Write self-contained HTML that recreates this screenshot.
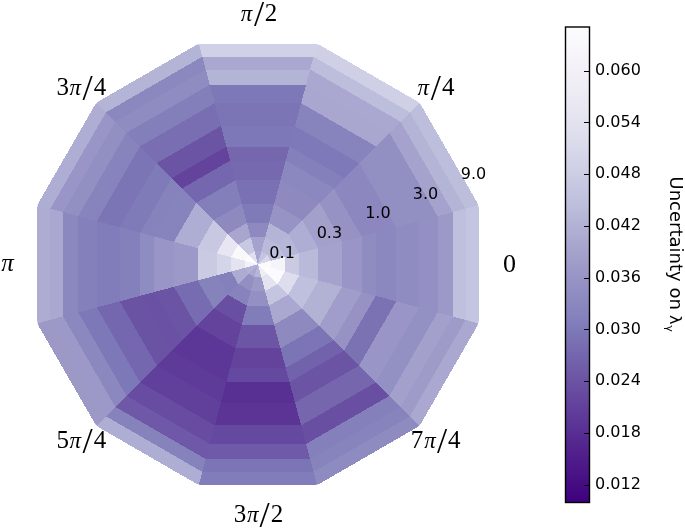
<!DOCTYPE html>
<html><head><meta charset="utf-8"><title>Uncertainty polar plot</title>
<style>
html,body{margin:0;padding:0;background:#fff;}
body{width:685px;height:529px;overflow:hidden;}
svg{display:block;}
.dv{font-family:"DejaVu Sans","Liberation Sans",sans-serif;font-size:16px;fill:#000;}
.tx{font-family:"Liberation Serif","DejaVu Serif",serif;font-size:25px;fill:#000;}
.pi{font-style:italic;font-size:23px;}
.sl{font-size:36.5px;}

</style></head><body>
<svg width="685" height="529" viewBox="0 0 685 529">
<defs><linearGradient id="cb" x1="0" y1="0" x2="0" y2="1">
<stop offset="0.0000" stop-color="#fcfbfd"/>
<stop offset="0.0312" stop-color="#f9f8fb"/>
<stop offset="0.0625" stop-color="#f6f4f9"/>
<stop offset="0.0938" stop-color="#f3f1f7"/>
<stop offset="0.1250" stop-color="#efedf5"/>
<stop offset="0.1562" stop-color="#eae9f3"/>
<stop offset="0.1875" stop-color="#e5e4f0"/>
<stop offset="0.2188" stop-color="#e0dfee"/>
<stop offset="0.2500" stop-color="#dadaeb"/>
<stop offset="0.2812" stop-color="#d3d3e8"/>
<stop offset="0.3125" stop-color="#cccce4"/>
<stop offset="0.3438" stop-color="#c4c5e0"/>
<stop offset="0.3750" stop-color="#bdbedc"/>
<stop offset="0.4062" stop-color="#b5b5d7"/>
<stop offset="0.4375" stop-color="#aeacd2"/>
<stop offset="0.4688" stop-color="#a6a3cd"/>
<stop offset="0.5000" stop-color="#9e9bc8"/>
<stop offset="0.5312" stop-color="#9793c5"/>
<stop offset="0.5625" stop-color="#8f8cc1"/>
<stop offset="0.5938" stop-color="#8885be"/>
<stop offset="0.6250" stop-color="#807dba"/>
<stop offset="0.6562" stop-color="#7b72b4"/>
<stop offset="0.6875" stop-color="#7567af"/>
<stop offset="0.7188" stop-color="#705ca9"/>
<stop offset="0.7500" stop-color="#6a51a3"/>
<stop offset="0.7812" stop-color="#65479e"/>
<stop offset="0.8125" stop-color="#5f3c99"/>
<stop offset="0.8438" stop-color="#5a3294"/>
<stop offset="0.8750" stop-color="#54278f"/>
<stop offset="0.9062" stop-color="#4f1d8b"/>
<stop offset="0.9375" stop-color="#4a1486"/>
<stop offset="0.9688" stop-color="#440a82"/>
<stop offset="1.0000" stop-color="#3f007d"/>
</linearGradient>
<clipPath id="circ"><circle cx="257.95" cy="264.3" r="228.0"/></clipPath></defs>
<rect width="685" height="529" fill="#fff"/>
<g shape-rendering="crispEdges" clip-path="url(#circ)">
<polygon points="257.95,264.30 270.80,267.74 270.80,260.86" fill="#faf9fc"/>
<polygon points="270.80,267.74 284.80,271.49 284.80,257.11 270.80,260.86" fill="#f5f4f9"/>
<polygon points="284.80,271.49 299.30,275.38 299.30,253.22 284.80,257.11" fill="#cacae3"/>
<polygon points="299.30,275.38 318.35,280.48 318.35,248.12 299.30,253.22" fill="#b9b9da"/>
<polygon points="318.35,280.48 341.95,286.81 341.95,241.79 318.35,248.12" fill="#a5a2cd"/>
<polygon points="341.95,286.81 361.60,292.07 361.60,236.53 341.95,241.79" fill="#9995c6"/>
<polygon points="361.60,292.07 375.70,295.85 375.70,232.75 361.60,236.53" fill="#8f8cc1"/>
<polygon points="375.70,295.85 396.20,301.34 396.20,227.26 375.70,232.75" fill="#8b87bf"/>
<polygon points="396.20,301.34 419.10,307.48 419.10,221.12 396.20,227.26" fill="#8f8cc1"/>
<polygon points="419.10,307.48 437.60,312.44 437.60,216.16 419.10,221.12" fill="#9490c3"/>
<polygon points="437.60,312.44 452.75,316.50 452.75,212.10 437.60,216.16" fill="#9c98c7"/>
<polygon points="452.75,316.50 465.55,319.93 465.55,208.67 452.75,212.10" fill="#bfc0de"/>
<polygon points="465.55,319.93 478.75,323.46 478.75,205.14 465.55,208.67" fill="#c4c5e0"/>
<polygon points="257.95,264.30 270.80,260.86 267.36,254.89" fill="#d8d8ea"/>
<polygon points="270.80,260.86 284.80,257.11 277.61,244.64 267.36,254.89" fill="#bebedd"/>
<polygon points="284.80,257.11 299.30,253.22 288.22,234.03 277.61,244.64" fill="#b6b6d8"/>
<polygon points="299.30,253.22 318.35,248.12 302.17,220.08 288.22,234.03" fill="#aeadd3"/>
<polygon points="318.35,248.12 341.95,241.79 319.44,202.81 302.17,220.08" fill="#a3a0cb"/>
<polygon points="341.95,241.79 361.60,236.53 333.83,188.42 319.44,202.81" fill="#9692c4"/>
<polygon points="361.60,236.53 375.70,232.75 344.15,178.10 333.83,188.42" fill="#8c88bf"/>
<polygon points="375.70,232.75 396.20,227.26 359.16,163.09 344.15,178.10" fill="#8c88bf"/>
<polygon points="396.20,227.26 419.10,221.12 375.92,146.33 359.16,163.09" fill="#928fc3"/>
<polygon points="419.10,221.12 437.60,216.16 389.46,132.79 375.92,146.33" fill="#928fc3"/>
<polygon points="437.60,216.16 452.75,212.10 400.55,121.70 389.46,132.79" fill="#a5a2cd"/>
<polygon points="452.75,212.10 465.55,208.67 409.92,112.33 400.55,121.70" fill="#b4b4d7"/>
<polygon points="465.55,208.67 478.75,205.14 419.59,102.66 409.92,112.33" fill="#bdbedc"/>
<polygon points="257.95,264.30 267.36,254.89 261.39,251.45" fill="#c4c5e0"/>
<polygon points="267.36,254.89 277.61,244.64 265.14,237.45 261.39,251.45" fill="#babadb"/>
<polygon points="277.61,244.64 288.22,234.03 269.03,222.95 265.14,237.45" fill="#b4b4d7"/>
<polygon points="288.22,234.03 302.17,220.08 274.13,203.90 269.03,222.95" fill="#9793c5"/>
<polygon points="302.17,220.08 319.44,202.81 280.46,180.30 274.13,203.90" fill="#8e8ac0"/>
<polygon points="319.44,202.81 333.83,188.42 285.72,160.65 280.46,180.30" fill="#8b87bf"/>
<polygon points="333.83,188.42 344.15,178.10 289.50,146.55 285.72,160.65" fill="#8380bb"/>
<polygon points="344.15,178.10 359.16,163.09 294.99,126.05 289.50,146.55" fill="#7e79b8"/>
<polygon points="359.16,163.09 375.92,146.33 301.13,103.15 294.99,126.05" fill="#8683bd"/>
<polygon points="375.92,146.33 389.46,132.79 306.09,84.65 301.13,103.15" fill="#a9a7cf"/>
<polygon points="389.46,132.79 400.55,121.70 310.15,69.50 306.09,84.65" fill="#aaa8d0"/>
<polygon points="400.55,121.70 409.92,112.33 313.58,56.70 310.15,69.50" fill="#bdbedc"/>
<polygon points="409.92,112.33 419.59,102.66 317.11,43.50 313.58,56.70" fill="#cfd0e6"/>
<polygon points="257.95,264.30 261.39,251.45 254.51,251.45" fill="#aaa8d0"/>
<polygon points="261.39,251.45 265.14,237.45 250.76,237.45 254.51,251.45" fill="#a5a2cd"/>
<polygon points="265.14,237.45 269.03,222.95 246.87,222.95 250.76,237.45" fill="#8e8ac0"/>
<polygon points="269.03,222.95 274.13,203.90 241.77,203.90 246.87,222.95" fill="#7f7bb9"/>
<polygon points="274.13,203.90 280.46,180.30 235.44,180.30 241.77,203.90" fill="#7a71b4"/>
<polygon points="280.46,180.30 285.72,160.65 230.18,160.65 235.44,180.30" fill="#7669af"/>
<polygon points="285.72,160.65 289.50,146.55 226.40,146.55 230.18,160.65" fill="#7566ae"/>
<polygon points="289.50,146.55 294.99,126.05 220.91,126.05 226.40,146.55" fill="#7d78b7"/>
<polygon points="294.99,126.05 301.13,103.15 214.77,103.15 220.91,126.05" fill="#7b74b5"/>
<polygon points="301.13,103.15 306.09,84.65 209.81,84.65 214.77,103.15" fill="#7d78b7"/>
<polygon points="306.09,84.65 310.15,69.50 205.75,69.50 209.81,84.65" fill="#b4b4d7"/>
<polygon points="310.15,69.50 313.58,56.70 202.32,56.70 205.75,69.50" fill="#aaa8d0"/>
<polygon points="313.58,56.70 317.11,43.50 198.79,43.50 202.32,56.70" fill="#d0d1e6"/>
<polygon points="257.95,264.30 254.51,251.45 248.54,254.89" fill="#e1e0ee"/>
<polygon points="254.51,251.45 250.76,237.45 238.29,244.64 248.54,254.89" fill="#c7c8e1"/>
<polygon points="250.76,237.45 246.87,222.95 227.68,234.03 238.29,244.64" fill="#a8a6cf"/>
<polygon points="246.87,222.95 241.77,203.90 213.73,220.08 227.68,234.03" fill="#8e8ac0"/>
<polygon points="241.77,203.90 235.44,180.30 196.46,202.81 213.73,220.08" fill="#827fbb"/>
<polygon points="235.44,180.30 230.18,160.65 182.07,188.42 196.46,202.81" fill="#7567af"/>
<polygon points="230.18,160.65 226.40,146.55 171.75,178.10 182.07,188.42" fill="#63439c"/>
<polygon points="226.40,146.55 220.91,126.05 156.74,163.09 171.75,178.10" fill="#6c54a5"/>
<polygon points="220.91,126.05 214.77,103.15 139.98,146.33 156.74,163.09" fill="#796eb2"/>
<polygon points="214.77,103.15 209.81,84.65 126.44,132.79 139.98,146.33" fill="#827fbb"/>
<polygon points="209.81,84.65 205.75,69.50 115.35,121.70 126.44,132.79" fill="#8f8cc1"/>
<polygon points="205.75,69.50 202.32,56.70 105.98,112.33 115.35,121.70" fill="#8b87bf"/>
<polygon points="202.32,56.70 198.79,43.50 96.31,102.66 105.98,112.33" fill="#b4b4d7"/>
<polygon points="257.95,264.30 248.54,254.89 245.10,260.86" fill="#fcfbfd"/>
<polygon points="248.54,254.89 238.29,244.64 231.10,257.11 245.10,260.86" fill="#f9f8fb"/>
<polygon points="238.29,244.64 227.68,234.03 216.60,253.22 231.10,257.11" fill="#e8e6f2"/>
<polygon points="227.68,234.03 213.73,220.08 197.55,248.12 216.60,253.22" fill="#c8c8e2"/>
<polygon points="213.73,220.08 196.46,202.81 173.95,241.79 197.55,248.12" fill="#aeadd3"/>
<polygon points="196.46,202.81 182.07,188.42 154.30,236.53 173.95,241.79" fill="#8784bd"/>
<polygon points="182.07,188.42 171.75,178.10 140.20,232.75 154.30,236.53" fill="#8582bc"/>
<polygon points="171.75,178.10 156.74,163.09 119.70,227.26 140.20,232.75" fill="#7f7bb9"/>
<polygon points="156.74,163.09 139.98,146.33 96.80,221.12 119.70,227.26" fill="#7b74b5"/>
<polygon points="139.98,146.33 126.44,132.79 78.30,216.16 96.80,221.12" fill="#8784bd"/>
<polygon points="126.44,132.79 115.35,121.70 63.15,212.10 78.30,216.16" fill="#928fc3"/>
<polygon points="115.35,121.70 105.98,112.33 50.35,208.67 63.15,212.10" fill="#9995c6"/>
<polygon points="105.98,112.33 96.31,102.66 37.15,205.14 50.35,208.67" fill="#aeadd3"/>
<polygon points="257.95,264.30 245.10,260.86 245.10,267.74" fill="#f3f1f7"/>
<polygon points="245.10,260.86 231.10,257.11 231.10,271.49 245.10,267.74" fill="#e4e3f0"/>
<polygon points="231.10,257.11 216.60,253.22 216.60,275.38 231.10,271.49" fill="#d5d5e9"/>
<polygon points="216.60,253.22 197.55,248.12 197.55,280.48 216.60,275.38" fill="#cacae3"/>
<polygon points="197.55,248.12 173.95,241.79 173.95,286.81 197.55,280.48" fill="#9c98c7"/>
<polygon points="173.95,241.79 154.30,236.53 154.30,292.07 173.95,286.81" fill="#9995c6"/>
<polygon points="154.30,236.53 140.20,232.75 140.20,295.85 154.30,292.07" fill="#8f8cc1"/>
<polygon points="140.20,232.75 119.70,227.26 119.70,301.34 140.20,295.85" fill="#8380bb"/>
<polygon points="119.70,227.26 96.80,221.12 96.80,307.48 119.70,301.34" fill="#807dba"/>
<polygon points="96.80,221.12 78.30,216.16 78.30,312.44 96.80,307.48" fill="#8380bb"/>
<polygon points="78.30,216.16 63.15,212.10 63.15,316.50 78.30,312.44" fill="#8b87bf"/>
<polygon points="63.15,212.10 50.35,208.67 50.35,319.93 63.15,316.50" fill="#aaa8d0"/>
<polygon points="50.35,208.67 37.15,205.14 37.15,323.46 50.35,319.93" fill="#aeacd2"/>
<polygon points="257.95,264.30 245.10,267.74 248.54,273.71" fill="#b1b1d5"/>
<polygon points="245.10,267.74 231.10,271.49 238.29,283.96 248.54,273.71" fill="#adabd2"/>
<polygon points="231.10,271.49 216.60,275.38 227.68,294.57 238.29,283.96" fill="#8380bb"/>
<polygon points="216.60,275.38 197.55,280.48 213.73,308.52 227.68,294.57" fill="#8582bc"/>
<polygon points="197.55,280.48 173.95,286.81 196.46,325.79 213.73,308.52" fill="#776cb1"/>
<polygon points="173.95,286.81 154.30,292.07 182.07,340.18 196.46,325.79" fill="#6c54a5"/>
<polygon points="154.30,292.07 140.20,295.85 171.75,350.50 182.07,340.18" fill="#6a51a3"/>
<polygon points="140.20,295.85 119.70,301.34 156.74,365.51 171.75,350.50" fill="#6b53a4"/>
<polygon points="119.70,301.34 96.80,307.48 139.98,382.27 156.74,365.51" fill="#7567af"/>
<polygon points="96.80,307.48 78.30,312.44 126.44,395.81 139.98,382.27" fill="#7d78b7"/>
<polygon points="78.30,312.44 63.15,316.50 115.35,406.90 126.44,395.81" fill="#8b87bf"/>
<polygon points="63.15,316.50 50.35,319.93 105.98,416.27 115.35,406.90" fill="#9c98c7"/>
<polygon points="50.35,319.93 37.15,323.46 96.31,425.94 105.98,416.27" fill="#9d99c7"/>
<polygon points="257.95,264.30 248.54,273.71 254.51,277.15" fill="#aaa8d0"/>
<polygon points="248.54,273.71 238.29,283.96 250.76,291.15 254.51,277.15" fill="#928fc3"/>
<polygon points="238.29,283.96 227.68,294.57 246.87,305.65 250.76,291.15" fill="#8784bd"/>
<polygon points="227.68,294.57 213.73,308.52 241.77,324.70 246.87,305.65" fill="#694fa2"/>
<polygon points="213.73,308.52 196.46,325.79 235.44,348.30 241.77,324.70" fill="#63439c"/>
<polygon points="196.46,325.79 182.07,340.18 230.18,367.95 235.44,348.30" fill="#5c3797"/>
<polygon points="182.07,340.18 171.75,350.50 226.40,382.05 230.18,367.95" fill="#5c3797"/>
<polygon points="171.75,350.50 156.74,365.51 220.91,402.55 226.40,382.05" fill="#5e3b98"/>
<polygon points="156.74,365.51 139.98,382.27 214.77,425.45 220.91,402.55" fill="#61409b"/>
<polygon points="139.98,382.27 126.44,395.81 209.81,443.95 214.77,425.45" fill="#674ca1"/>
<polygon points="126.44,395.81 115.35,406.90 205.75,459.10 209.81,443.95" fill="#6e58a7"/>
<polygon points="115.35,406.90 105.98,416.27 202.32,471.90 205.75,459.10" fill="#8582bc"/>
<polygon points="105.98,416.27 96.31,425.94 198.79,485.10 202.32,471.90" fill="#aeadd3"/>
<polygon points="257.95,264.30 254.51,277.15 261.39,277.15" fill="#b6b6d8"/>
<polygon points="254.51,277.15 250.76,291.15 265.14,291.15 261.39,277.15" fill="#9d99c7"/>
<polygon points="250.76,291.15 246.87,305.65 269.03,305.65 265.14,291.15" fill="#9490c3"/>
<polygon points="246.87,305.65 241.77,324.70 274.13,324.70 269.03,305.65" fill="#807dba"/>
<polygon points="241.77,324.70 235.44,348.30 280.46,348.30 274.13,324.70" fill="#6c55a5"/>
<polygon points="235.44,348.30 230.18,367.95 285.72,367.95 280.46,348.30" fill="#63439c"/>
<polygon points="230.18,367.95 226.40,382.05 289.50,382.05 285.72,367.95" fill="#65489f"/>
<polygon points="226.40,382.05 220.91,402.55 294.99,402.55 289.50,382.05" fill="#582f93"/>
<polygon points="220.91,402.55 214.77,425.45 301.13,425.45 294.99,402.55" fill="#5b3495"/>
<polygon points="214.77,425.45 209.81,443.95 306.09,443.95 301.13,425.45" fill="#65489f"/>
<polygon points="209.81,443.95 205.75,459.10 310.15,459.10 306.09,443.95" fill="#6e5aa8"/>
<polygon points="205.75,459.10 202.32,471.90 313.58,471.90 310.15,459.10" fill="#7b74b5"/>
<polygon points="202.32,471.90 198.79,485.10 317.11,485.10 313.58,471.90" fill="#807dba"/>
<polygon points="257.95,264.30 261.39,277.15 267.36,273.71" fill="#f0eef5"/>
<polygon points="261.39,277.15 265.14,291.15 277.61,283.96 267.36,273.71" fill="#e4e3f0"/>
<polygon points="265.14,291.15 269.03,305.65 288.22,294.57 277.61,283.96" fill="#c4c5e0"/>
<polygon points="269.03,305.65 274.13,324.70 302.17,308.52 288.22,294.57" fill="#aaa8d0"/>
<polygon points="274.13,324.70 280.46,348.30 319.44,325.79 302.17,308.52" fill="#8e8ac0"/>
<polygon points="280.46,348.30 285.72,367.95 333.83,340.18 319.44,325.79" fill="#7b74b5"/>
<polygon points="285.72,367.95 289.50,382.05 344.15,350.50 333.83,340.18" fill="#7262ac"/>
<polygon points="289.50,382.05 294.99,402.55 359.16,365.51 344.15,350.50" fill="#6c54a5"/>
<polygon points="294.99,402.55 301.13,425.45 375.92,382.27 359.16,365.51" fill="#7566ae"/>
<polygon points="301.13,425.45 306.09,443.95 389.46,395.81 375.92,382.27" fill="#694fa2"/>
<polygon points="306.09,443.95 310.15,459.10 400.55,406.90 389.46,395.81" fill="#8380bb"/>
<polygon points="310.15,459.10 313.58,471.90 409.92,416.27 400.55,406.90" fill="#8784bd"/>
<polygon points="313.58,471.90 317.11,485.10 419.59,425.94 409.92,416.27" fill="#8e8bc1"/>
<polygon points="257.95,264.30 267.36,273.71 270.80,267.74" fill="#fcfbfd"/>
<polygon points="267.36,273.71 277.61,283.96 284.80,271.49 270.80,267.74" fill="#fbfafc"/>
<polygon points="277.61,283.96 288.22,294.57 299.30,275.38 284.80,271.49" fill="#dedded"/>
<polygon points="288.22,294.57 302.17,308.52 318.35,280.48 299.30,275.38" fill="#bfc0de"/>
<polygon points="302.17,308.52 319.44,325.79 341.95,286.81 318.35,280.48" fill="#b2b2d5"/>
<polygon points="319.44,325.79 333.83,340.18 361.60,292.07 341.95,286.81" fill="#a09dca"/>
<polygon points="333.83,340.18 344.15,350.50 375.70,295.85 361.60,292.07" fill="#9692c4"/>
<polygon points="344.15,350.50 359.16,365.51 396.20,301.34 375.70,295.85" fill="#7b72b4"/>
<polygon points="359.16,365.51 375.92,382.27 419.10,307.48 396.20,301.34" fill="#9995c6"/>
<polygon points="375.92,382.27 389.46,395.81 437.60,312.44 419.10,307.48" fill="#9390c3"/>
<polygon points="389.46,395.81 400.55,406.90 452.75,316.50 437.60,312.44" fill="#a3a0cb"/>
<polygon points="400.55,406.90 409.92,416.27 465.55,319.93 452.75,316.50" fill="#9e9bc8"/>
<polygon points="409.92,416.27 419.59,425.94 478.75,323.46 465.55,319.93" fill="#aaa8d0"/>
</g>
<g>

<text x="282.1" y="257.8" text-anchor="middle" class="dv">0.1</text>
<text x="329.4" y="238.3" text-anchor="middle" class="dv">0.3</text>
<text x="377.9" y="218.0" text-anchor="middle" class="dv">1.0</text>
<text x="425.5" y="198.6" text-anchor="middle" class="dv">3.0</text>
<text x="473.5" y="178.8" text-anchor="middle" class="dv">9.0</text>

</g>
<rect x="565.5" y="27.0" width="24.0" height="475.5" fill="url(#cb)" stroke="#000" stroke-width="1.4"/>
<g>
<line x1="583.5" y1="71.1" x2="589.5" y2="71.1" stroke="#000" stroke-width="1" shape-rendering="crispEdges"/>
<text x="595.0" y="74.8" class="dv">0.060</text>
<line x1="583.5" y1="122.8" x2="589.5" y2="122.8" stroke="#000" stroke-width="1" shape-rendering="crispEdges"/>
<text x="595.0" y="126.5" class="dv">0.054</text>
<line x1="583.5" y1="174.6" x2="589.5" y2="174.6" stroke="#000" stroke-width="1" shape-rendering="crispEdges"/>
<text x="595.0" y="178.3" class="dv">0.048</text>
<line x1="583.5" y1="226.3" x2="589.5" y2="226.3" stroke="#000" stroke-width="1" shape-rendering="crispEdges"/>
<text x="595.0" y="230.0" class="dv">0.042</text>
<line x1="583.5" y1="278.1" x2="589.5" y2="278.1" stroke="#000" stroke-width="1" shape-rendering="crispEdges"/>
<text x="595.0" y="281.8" class="dv">0.036</text>
<line x1="583.5" y1="329.9" x2="589.5" y2="329.9" stroke="#000" stroke-width="1" shape-rendering="crispEdges"/>
<text x="595.0" y="333.6" class="dv">0.030</text>
<line x1="583.5" y1="381.6" x2="589.5" y2="381.6" stroke="#000" stroke-width="1" shape-rendering="crispEdges"/>
<text x="595.0" y="385.3" class="dv">0.024</text>
<line x1="583.5" y1="433.4" x2="589.5" y2="433.4" stroke="#000" stroke-width="1" shape-rendering="crispEdges"/>
<text x="595.0" y="437.1" class="dv">0.018</text>
<line x1="583.5" y1="485.1" x2="589.5" y2="485.1" stroke="#000" stroke-width="1" shape-rendering="crispEdges"/>
<text x="595.0" y="488.8" class="dv">0.012</text>
</g>
<text class="tx"><tspan class="pi" x="240.7" y="20.8">π</tspan><tspan class="sl" x="254.1" y="25.9">/</tspan><tspan x="264.8" y="20.8">2</tspan></text>
<text class="tx"><tspan x="56.4" y="94.7">3</tspan><tspan class="pi" x="69.6" y="94.7">π</tspan><tspan class="sl" x="82.4" y="99.8">/</tspan><tspan x="93.8" y="94.7">4</tspan></text>
<text class="tx"><tspan class="pi" style="font-size:25px" x="1.2" y="270.6">π</tspan></text>
<text class="tx"><tspan x="56.4" y="447.7">5</tspan><tspan class="pi" x="69.6" y="447.7">π</tspan><tspan class="sl" x="82.6" y="452.8">/</tspan><tspan x="93.8" y="447.7">4</tspan></text>
<text class="tx"><tspan x="233.8" y="521.7">3</tspan><tspan class="pi" x="246.9" y="521.7">π</tspan><tspan class="sl" x="259.6" y="526.8">/</tspan><tspan x="270.7" y="521.7">2</tspan></text>
<text class="tx"><tspan x="410.7" y="447.7">7</tspan><tspan class="pi" x="424.2" y="447.7">π</tspan><tspan class="sl" x="437.1" y="452.8">/</tspan><tspan x="448.1" y="447.7">4</tspan></text>
<text class="tx" style="font-size:26px" x="502.9" y="271.9">0</text>
<text class="tx"><tspan class="pi" x="417.6" y="94.7">π</tspan><tspan class="sl" x="430.7" y="99.8">/</tspan><tspan x="441.9" y="94.7">4</tspan></text>
<text transform="translate(669.8,176.5) rotate(90)" class="dv" style="font-size:18px">Uncertainty on <tspan x="138.5" style="font-size:16px">λ</tspan><tspan x="148.8" dy="3.8" style="font-size:11px">γ</tspan></text>
</svg>
</body></html>
